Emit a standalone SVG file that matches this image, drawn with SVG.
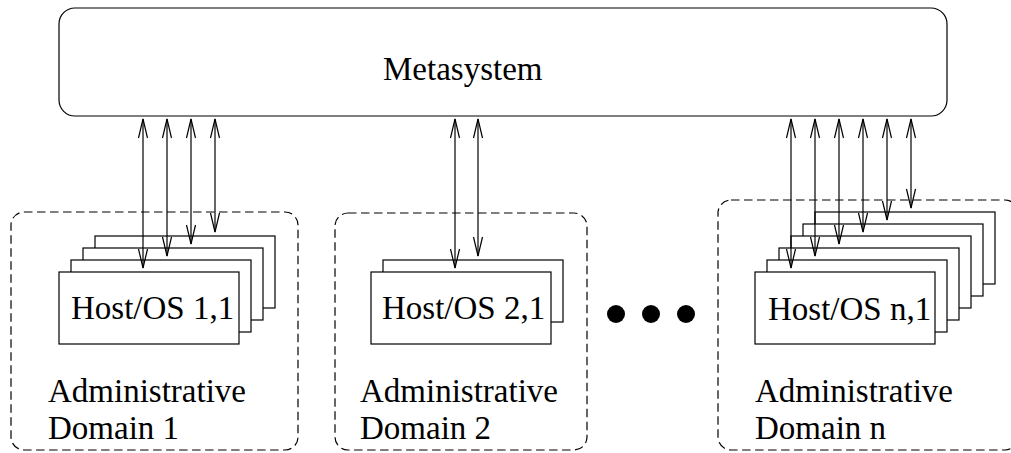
<svg xmlns="http://www.w3.org/2000/svg" width="1011" height="453" viewBox="0 0 1011 453" font-family="'Liberation Serif', 'Times New Roman', Tinos, 'DejaVu Serif', serif">
  <style>
    text { font-family: 'Liberation Serif', 'Times New Roman', Tinos, 'DejaVu Serif', serif; font-size: 33px; fill: #000; }
    .meta { fill: #fff; stroke: #000; stroke-width: 1.2; }
    .domain { fill: none; stroke: #000; stroke-width: 1.2; stroke-dasharray: 8.5 4.5; }
    .host { fill: #fff; stroke: #000; stroke-width: 1.2; }
    .link { fill: none; stroke: #000; stroke-width: 1.2; marker-start: url(#head); marker-end: url(#head); }
    .dot { fill: #000; }
  </style>
  <defs>
    <marker id="head" markerUnits="userSpaceOnUse" viewBox="-1 -6 22 12" markerWidth="22" markerHeight="12" refX="19" refY="0" orient="auto-start-reverse">
      <path d="M0,-4.5 L19,0 L0,4.5" fill="none" stroke="#000" stroke-width="1.2"/>
    </marker>
  </defs>

  <rect width="1011" height="453" fill="#fff"/>

  <!-- top-level metasystem -->
  <g id="metasystem">
    <rect class="meta" x="59" y="8" width="888" height="108" rx="16" ry="16"/>
    <text x="383" y="80">Metasystem</text>
  </g>

  <!-- administrative domain 1: four stacked hosts -->
  <g id="domain1">
    <rect class="domain" x="11" y="212" width="287" height="238" rx="13" ry="13"/>
    <rect class="host" x="95" y="236" width="180" height="72"/>
    <rect class="host" x="83" y="248" width="180" height="72"/>
    <rect class="host" x="71" y="260" width="180" height="72"/>
    <rect class="host" x="59" y="272" width="180" height="72"/>
    <text x="71" y="319">Host/OS 1,1</text>
    <text x="48" y="402">Administrative</text>
    <text x="48" y="439">Domain 1</text>
  </g>

  <!-- administrative domain 2: two stacked hosts -->
  <g id="domain2">
    <rect class="domain" x="335" y="213" width="252" height="237" rx="13" ry="13"/>
    <rect class="host" x="383" y="260" width="180" height="62"/>
    <rect class="host" x="371" y="272" width="180" height="72"/>
    <text x="382" y="319">Host/OS 2,1</text>
    <text x="360" y="402">Administrative</text>
    <text x="360" y="439">Domain 2</text>
  </g>

  <!-- ellipsis between domains -->
  <g id="ellipsis">
    <circle class="dot" cx="616" cy="314" r="9"/>
    <circle class="dot" cx="651" cy="314" r="9"/>
    <circle class="dot" cx="686" cy="314" r="9"/>
  </g>

  <!-- administrative domain n: six stacked hosts -->
  <g id="domainN">
    <rect class="domain" x="718" y="200" width="300" height="250" rx="13" ry="13"/>
    <rect class="host" x="815" y="212" width="180" height="72"/>
    <rect class="host" x="803" y="224" width="180" height="72"/>
    <rect class="host" x="791" y="236" width="180" height="72"/>
    <rect class="host" x="779" y="248" width="180" height="72"/>
    <rect class="host" x="767" y="260" width="180" height="72"/>
    <rect class="host" x="755" y="272" width="180" height="72"/>
    <text x="768" y="320">Host/OS n,1</text>
    <text x="755" y="402">Administrative</text>
    <text x="755" y="439">Domain n</text>
  </g>

  <!-- bidirectional links between metasystem and hosts -->
  <g id="connectors">
    <path class="link" d="M143,119 V268"/>
    <path class="link" d="M167,119 V256"/>
    <path class="link" d="M191,119 V244"/>
    <path class="link" d="M215,119 V232"/>

    <path class="link" d="M455,119 V268"/>
    <path class="link" d="M478,119 V256"/>

    <path class="link" d="M791,119 V268"/>
    <path class="link" d="M815,119 V256"/>
    <path class="link" d="M839,119 V244"/>
    <path class="link" d="M863,119 V232"/>
    <path class="link" d="M887,119 V220"/>
    <path class="link" d="M911,119 V208"/>
  </g>
</svg>
